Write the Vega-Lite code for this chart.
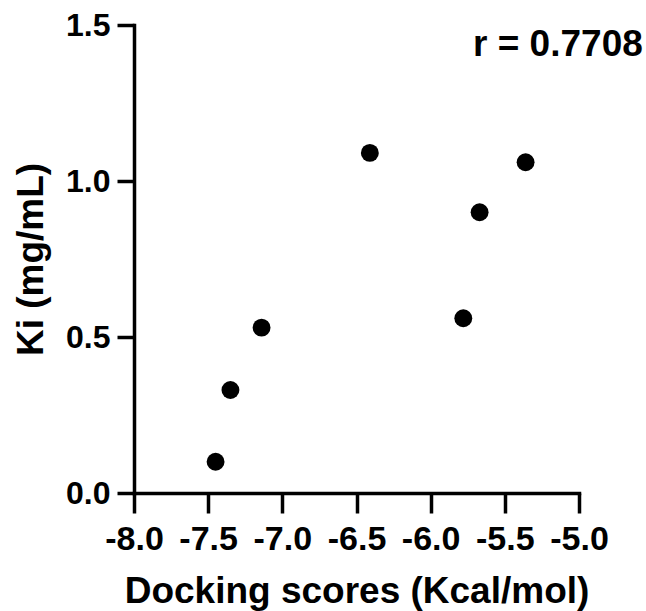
{
  "$schema": "https://vega.github.io/schema/vega-lite/v6.json",
  "width": 445,
  "height": 468,
  "autosize": "none",
  "padding": {"left": 134, "top": 25, "right": 67, "bottom": 118},
  "background": "white",
  "config": {
    "view": {"stroke": null},
    "font": "Liberation Sans"
  },
  "datasets": {
    "points": [
      {"score": -7.45, "ki": 0.10},
      {"score": -7.35, "ki": 0.33},
      {"score": -7.14, "ki": 0.53},
      {"score": -6.41, "ki": 1.09},
      {"score": -5.78, "ki": 0.56},
      {"score": -5.67, "ki": 0.90},
      {"score": -5.36, "ki": 1.06}
    ],
    "note": [
      {"score": -4.57, "ki": 1.40, "label": "r = 0.7708"}
    ]
  },
  "layer": [
    {
      "data": {"name": "points"},
      "mark": {"type": "circle", "size": 320, "color": "black", "opacity": 1},
      "encoding": {
        "x": {
          "field": "score", "type": "quantitative",
          "scale": {"domain": [-8, -5], "nice": false, "zero": false},
          "axis": {
            "title": "Docking scores (Kcal/mol)",
            "values": [-8, -7.5, -7, -6.5, -6, -5.5, -5],
            "labelExpr": "replace(format(datum.value, '.1f'), '\u2212', '-')",
            "grid": false,
            "domainColor": "black", "domainWidth": 3.5, "domainCap": "square",
            "tickColor": "black", "tickWidth": 3.5, "tickSize": 20,
            "labelFont": "Liberation Sans", "labelFontWeight": "bold", "labelFontSize": 34, "labelColor": "black",
            "labelPadding": 9, "labelFlush": false, "labelOverlap": false,
            "titleFont": "Liberation Sans", "titleFontWeight": "bold", "titleFontSize": 37, "titleColor": "black",
            "titleBaseline": "alphabetic", "titleY": 109
          }
        },
        "y": {
          "field": "ki", "type": "quantitative",
          "scale": {"domain": [0, 1.5], "nice": false},
          "axis": {
            "title": "Ki (mg/mL)",
            "values": [0, 0.5, 1, 1.5],
            "format": ".1f",
            "grid": false,
            "domainColor": "black", "domainWidth": 3.5, "domainCap": "square",
            "tickColor": "black", "tickWidth": 3.5, "tickSize": 17,
            "labelFont": "Liberation Sans", "labelFontWeight": "bold", "labelFontSize": 32, "labelColor": "black",
            "labelPadding": 7, "labelFlush": false, "labelOverlap": false,
            "titleFont": "Liberation Sans", "titleFontWeight": "bold", "titleFontSize": 37, "titleColor": "black",
            "titleBaseline": "alphabetic", "titleX": -92
          }
        }
      }
    },
    {
      "data": {"name": "note"},
      "mark": {"type": "text", "align": "right", "baseline": "alphabetic", "font": "Liberation Sans", "fontWeight": "bold", "fontSize": 37, "color": "black"},
      "encoding": {
        "x": {"field": "score", "type": "quantitative"},
        "y": {"field": "ki", "type": "quantitative"},
        "text": {"field": "label"}
      }
    }
  ]
}
